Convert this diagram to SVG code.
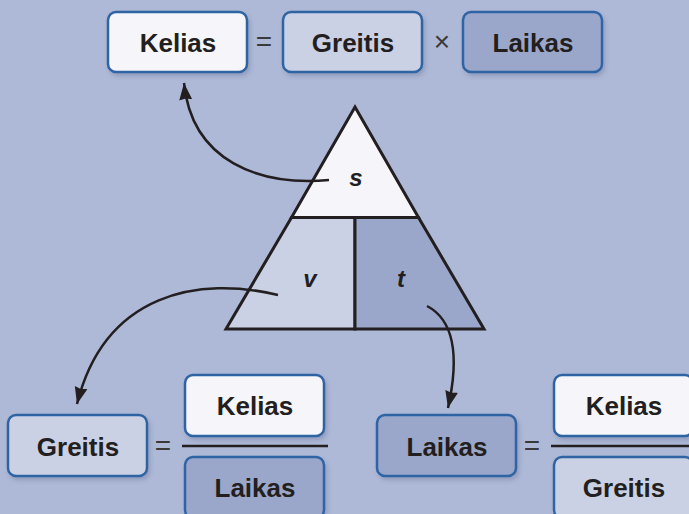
<svg xmlns="http://www.w3.org/2000/svg" width="689" height="514" viewBox="0 0 689 514">
<defs>
<style>
.box{stroke:#2f64a4;stroke-width:2.5}
.w{fill:#f5f5fa}
.l{fill:#cbd1e5}
.d{fill:#9aa7cb}
.lbl{font-family:"Liberation Sans",Arial,sans-serif;font-weight:bold;font-size:26px;fill:#231f20;text-anchor:middle}
.op{font-family:"Liberation Sans",Arial,sans-serif;font-size:28px;fill:#3a3a3a;text-anchor:middle}
.var{font-family:"Liberation Sans",Arial,sans-serif;font-weight:bold;font-style:italic;font-size:24px;fill:#231f20;text-anchor:middle}
.tri{stroke:#231f20;stroke-width:3;stroke-linejoin:miter}
.arr{fill:none;stroke:#231f20;stroke-width:2.5}
</style>
<filter id="sh" x="-10%" y="-10%" width="130%" height="140%">
<feDropShadow dx="2" dy="3" stdDeviation="2" flood-color="#3a4a70" flood-opacity="0.25"/>
</filter>
<marker id="ah" markerUnits="userSpaceOnUse" markerWidth="20" markerHeight="20" refX="17" refY="6.5" orient="auto">
<path d="M0,0 L17,6.5 L0,13 L1.5,6.5 Z" fill="#231f20"/>
</marker>
</defs>
<rect width="689" height="514" fill="#aeb9d7"/>

<g id="eq-top">
<g id="top-kelias"><rect class="box w" x="108" y="12" width="139" height="60" rx="8" filter="url(#sh)"/><text class="lbl" x="178" y="52">Kelias</text></g>
<text class="op" x="264" y="51">=</text>
<g id="top-greitis"><rect class="box l" x="283" y="12" width="139" height="60" rx="8" filter="url(#sh)"/><text class="lbl" x="353" y="52">Greitis</text></g>
<text class="op" x="442" y="51">×</text>
<g id="top-laikas"><rect class="box d" x="463" y="12" width="139" height="60" rx="8" filter="url(#sh)"/><text class="lbl" x="533" y="52">Laikas</text></g>
</g>

<g id="triangle">
<path class="tri w" d="M355,107 L418.5,217.5 L291.5,217.5 Z"/>
<path class="tri l" d="M291.5,217.5 L355,217.5 L355,329 L226,329 Z"/>
<path class="tri d" d="M355,217.5 L418.5,217.5 L484,329 L355,329 Z"/>
<text class="var" x="356" y="186">s</text>
<text class="var" x="310" y="287">v</text>
<text class="var" x="401" y="287">t</text>
</g>

<g id="connectors">
<path class="arr" marker-end="url(#ah)" d="M329,180 C260,186 192,162 184,83"/>
<path class="arr" marker-end="url(#ah)" d="M278,295 C200,276 105,292 77,404"/>
<path class="arr" marker-end="url(#ah)" d="M427,306 C448,317 462,345 448,408"/>
</g>

<g id="eq-left">
<g id="left-greitis"><rect class="box l" x="8" y="415" width="139" height="61" rx="8" filter="url(#sh)"/><text class="lbl" x="78" y="456">Greitis</text></g>
<text class="op" x="163" y="455">=</text>
<g id="left-kelias"><rect class="box w" x="185" y="375" width="139" height="61" rx="8" filter="url(#sh)"/><text class="lbl" x="255" y="415">Kelias</text></g>
<line x1="182" y1="446" x2="328" y2="446" stroke="#231f20" stroke-width="2.5"/>
<g id="left-laikas"><rect class="box d" x="185" y="457" width="139" height="61" rx="8" filter="url(#sh)"/><text class="lbl" x="255" y="497">Laikas</text></g>
</g>

<g id="eq-right">
<g id="right-laikas"><rect class="box d" x="377" y="415" width="139" height="61" rx="8" filter="url(#sh)"/><text class="lbl" x="447" y="456">Laikas</text></g>
<text class="op" x="532" y="455">=</text>
<g id="right-kelias"><rect class="box w" x="554" y="375" width="139" height="61" rx="8" filter="url(#sh)"/><text class="lbl" x="624" y="415">Kelias</text></g>
<line x1="551" y1="446" x2="689" y2="446" stroke="#231f20" stroke-width="2.5"/>
<g id="right-greitis"><rect class="box l" x="554" y="457" width="139" height="61" rx="8" filter="url(#sh)"/><text class="lbl" x="624" y="497">Greitis</text></g>
</g>
</svg>
